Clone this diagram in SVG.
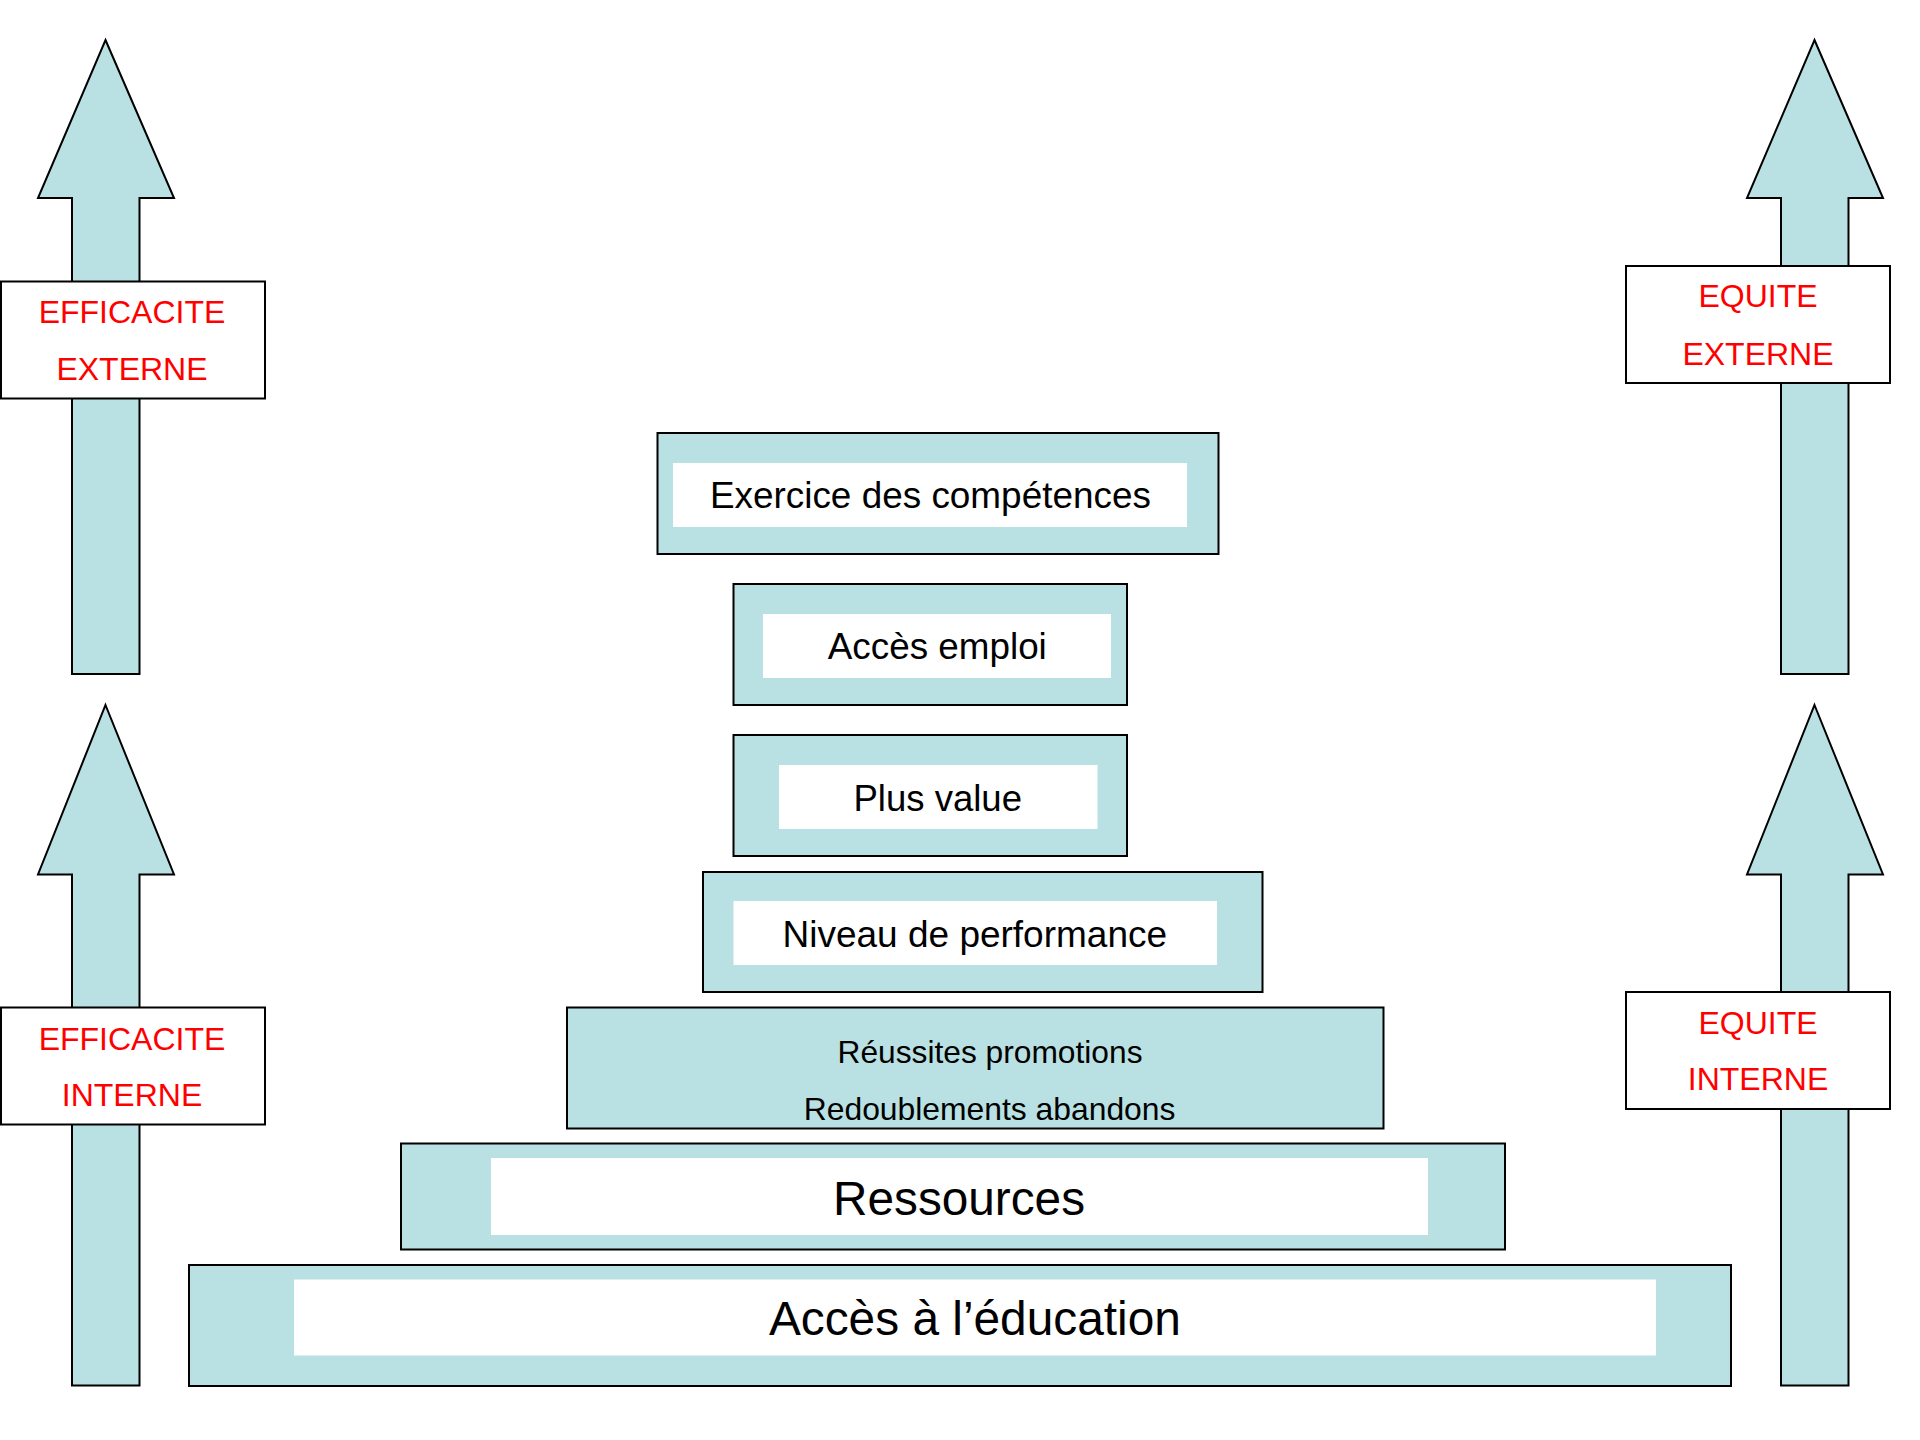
<svg xmlns="http://www.w3.org/2000/svg" width="1920" height="1440" viewBox="0 0 1920 1440">
<style>
.teal{fill:#B9E0E2;stroke:#000;stroke-width:2}
.white{fill:#fff;stroke:none}
.lab{fill:#fff;stroke:#000;stroke-width:2}
.red{font-family:"Liberation Sans",Arial,sans-serif;font-size:32px;fill:#FF0000;text-anchor:middle}
.blk{font-family:"Liberation Sans",Arial,sans-serif;fill:#000;text-anchor:middle}
</style>
<rect width="1920" height="1440" fill="#fff"/>
<g id="arrows">
<polygon id="arrow-eff-ext" class="teal" points="105.5,40 174,198 139.5,198 139.5,674 72,674 72,198 38,198"/>
<polygon id="arrow-eff-int" class="teal" points="105.5,705 174,874.5 139.5,874.5 139.5,1385.5 72,1385.5 72,874.5 38,874.5"/>
<polygon id="arrow-eq-ext" class="teal" points="1814.5,40 1883,198 1848.5,198 1848.5,674 1781,674 1781,198 1747,198"/>
<polygon id="arrow-eq-int" class="teal" points="1814.5,705 1883,874.5 1848.5,874.5 1848.5,1385.5 1781,1385.5 1781,874.5 1747,874.5"/>
</g>
<g id="label-eff-ext">
<rect class="lab" x="1" y="281.5" width="264" height="117"/>
<text class="red" x="132" y="323">EFFICACITE</text>
<text class="red" x="132" y="380">EXTERNE</text>
</g>
<g id="label-eff-int">
<rect class="lab" x="1" y="1007.5" width="264" height="117"/>
<text class="red" x="132" y="1049.5">EFFICACITE</text>
<text class="red" x="132" y="1106">INTERNE</text>
</g>
<g id="label-eq-ext">
<rect class="lab" x="1626" y="266" width="264" height="117"/>
<text class="red" x="1758" y="307">EQUITE</text>
<text class="red" x="1758" y="365">EXTERNE</text>
</g>
<g id="label-eq-int">
<rect class="lab" x="1626" y="992" width="264" height="117"/>
<text class="red" x="1758" y="1033.5">EQUITE</text>
<text class="red" x="1758" y="1090">INTERNE</text>
</g>
<g id="exercice">
<rect class="teal" x="657.5" y="433" width="561" height="121"/>
<rect class="white" x="673" y="463" width="514" height="64"/>
<text class="blk" x="930.4" y="508.3" font-size="37" textLength="441" lengthAdjust="spacingAndGlyphs">Exercice des compétences</text>
</g>
<g id="acces-emploi">
<rect class="teal" x="733.5" y="584" width="393.5" height="121"/>
<rect class="white" x="763" y="614" width="348" height="64"/>
<text class="blk" x="937.3" y="659" font-size="37" textLength="219" lengthAdjust="spacingAndGlyphs">Accès emploi</text>
</g>
<g id="plus-value">
<rect class="teal" x="733.5" y="735" width="393.5" height="121"/>
<rect class="white" x="779" y="765" width="318.5" height="64"/>
<text class="blk" x="937.7" y="811" font-size="37" textLength="168.6" lengthAdjust="spacingAndGlyphs">Plus value</text>
</g>
<g id="niveau">
<rect class="teal" x="703" y="872" width="559.5" height="120"/>
<rect class="white" x="733.5" y="901" width="483.5" height="64"/>
<text class="blk" x="974.8" y="947" font-size="37" textLength="384.5" lengthAdjust="spacingAndGlyphs">Niveau de performance</text>
</g>
<g id="reussites">
<rect class="teal" x="567" y="1007.5" width="816.5" height="121"/>
<text class="blk" x="990" y="1063.3" font-size="31.5" textLength="305" lengthAdjust="spacingAndGlyphs">Réussites promotions</text>
<text class="blk" x="989.6" y="1120" font-size="31.5" textLength="371.7" lengthAdjust="spacingAndGlyphs">Redoublements abandons</text>
</g>
<g id="ressources">
<rect class="teal" x="401" y="1143.5" width="1104" height="106"/>
<rect class="white" x="491" y="1158" width="937" height="77"/>
<text class="blk" x="959" y="1215" font-size="47.5" textLength="252" lengthAdjust="spacingAndGlyphs">Ressources</text>
</g>
<g id="acces-education">
<rect class="teal" x="189" y="1265" width="1542" height="121"/>
<rect class="white" x="294" y="1279.5" width="1362" height="76"/>
<text class="blk" x="974.9" y="1335" font-size="47.5" textLength="412" lengthAdjust="spacingAndGlyphs">Accès à l’éducation</text>
</g>
</svg>
